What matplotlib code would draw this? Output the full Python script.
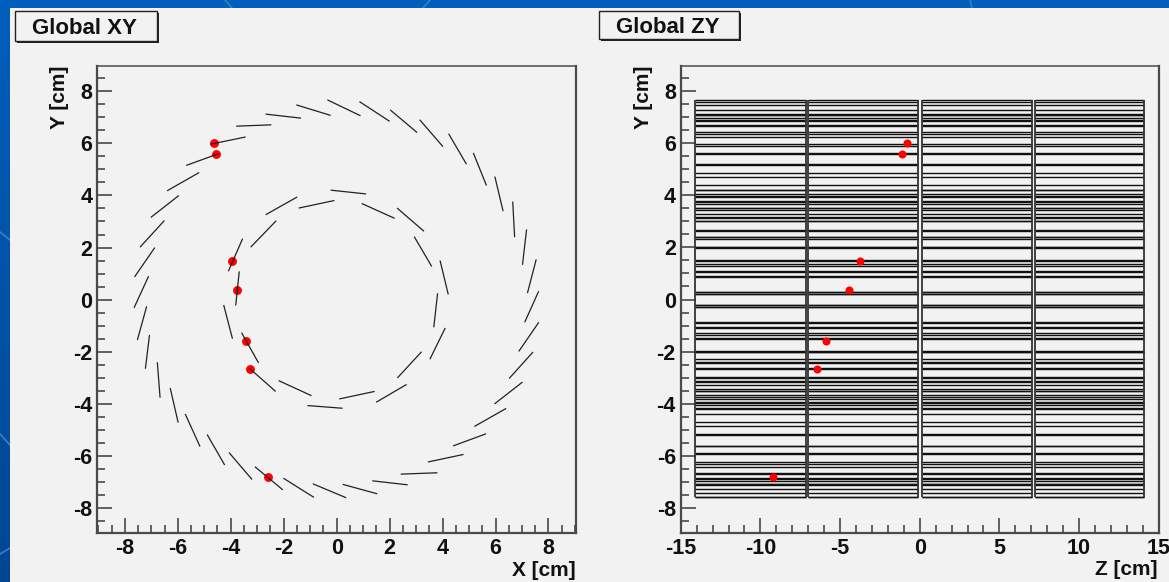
import numpy as np
import matplotlib
matplotlib.use('Agg')
import matplotlib.pyplot as plt
from matplotlib.patches import Rectangle
from matplotlib.ticker import MultipleLocator

plt.rcParams['font.family'] = ['Liberation Sans', 'DejaVu Sans']
plt.rcParams['font.weight'] = 'bold'
plt.rcParams['axes.labelweight'] = 'bold'
plt.rcParams['axes.unicode_minus'] = False

# outer ring strips, end points in cm
outer_x1 = [-4.75, -5.66, -6.38, -7.00, -7.41, -7.62, -7.64, -7.52, -7.22, -6.67, -5.99, -5.17, -4.24, -3.21,
            -2.05, -0.88, -0.88, 0.25, 1.37, 2.44, 3.47, 4.42, 5.22, 5.98, 6.53, 6.89,
            7.11, 7.21, 7.02, 6.72, 6.28, 5.65, 4.89, 4.00, 3.02, 1.98, 0.88, -1.50, -2.66, -3.77]
outer_y1 = [5.97, 5.16, 4.19, 3.17, 2.03, 0.89, -0.29, -1.53, -2.63, -3.74, -4.70, -5.62, -6.33, -6.89,
            -7.29, -7.58, -7.08, -7.10, -6.96, -6.70, -6.23, -5.61, -4.86, -3.99, -3.01, -1.97,
            -0.85, 0.27, 1.36, 2.42, 3.42, 4.40, 5.22, 5.89, 6.43, 6.86, 7.07, 7.47, 7.12, 6.66]
outer_x2 = [-3.46, -4.47, -5.21, -5.98, -6.52, -6.88, -7.11, -7.18, -7.07, -6.77, -6.28, -5.71, -4.88, -4.05,
            -3.07, -1.99, 0.34, 1.51, 2.66, 3.78, 4.77, 5.62, 6.38, 7.00, 7.40, 7.62,
            7.62, 7.53, 7.17, 6.65, 5.98, 5.17, 4.24, 3.15, 2.04, 0.88, -0.33, -0.25, -1.37, -2.49]
outer_y2 = [6.24, 5.60, 4.87, 3.98, 3.02, 1.98, 0.88, -0.28, -1.38, -2.43, -3.42, -4.41, -5.20, -5.89,
            -6.43, -6.87, -7.60, -7.45, -7.11, -6.65, -5.95, -5.16, -4.19, -3.18, -2.03, -0.89,
            0.30, 1.52, 2.67, 3.74, 4.70, 5.61, 6.35, 6.89, 7.27, 7.59, 7.66, 7.08, 6.97, 6.71]

# inner ring strips
inner_x1 = [-4.08, -3.81, -3.94, -2.96, -2.32, -0.97, -1.08, 0.12, 1.51, 2.31,
            3.53, 3.67, 4.21, 3.58, 3.28, 2.17, 1.09, -1.41, -2.66, -3.23]
inner_y1 = [1.11, -0.20, -1.48, -2.41, -3.51, -3.68, -4.07, -3.81, -3.93, -2.99,
            -2.27, -1.04, 0.22, 1.29, 2.64, 3.13, 4.06, 3.52, 3.27, 2.03]
inner_x2 = [-3.56, -3.68, -4.26, -3.58, -3.27, -2.17, 0.20, 1.41, 2.62, 3.19,
            4.09, 3.81, 3.91, 2.94, 2.30, 0.97, -0.20, -0.11, -1.51, -2.30]
inner_y2 = [2.32, 1.06, -0.23, -1.29, -2.66, -3.12, -4.17, -3.53, -3.27, -2.02,
            -1.11, 0.22, 1.48, 2.40, 3.50, 3.68, 4.20, 3.80, 3.93, 3.01]

# hits
hit_x = [-4.62, -4.57, -3.95, -3.75, -3.42, -3.28, -2.59]
hit_y = [6.01, 5.59, 1.48, 0.38, -1.59, -2.66, -6.83]
hit_z = [-0.77, -1.08, -3.74, -4.45, -5.85, -6.43, -9.19]

# z ranges of the four modules
module_z1 = [-14.08, -6.98, 0.125, 7.21]
module_z2 = [-7.15, -0.08, 7.05, 14.10]

W, H = 1169, 582
panel_color = '#f2f2f2'
axis_color = '#3a3a3a'


def px_box(x0, y0, x1, y1):
    # pixel box (y from the top) -> figure fractions
    return [x0 / W, 1 - y1 / H, (x1 - x0) / W, (y1 - y0) / H]


fig = plt.figure(figsize=(W / 100, H / 100), dpi=100)

# blue slide background
bg = fig.add_axes([0, 0, 1, 1], zorder=-5)
grad = np.linspace(0, 1, 200).reshape(-1, 1, 1)
top_c = np.array([0.0, 0.37, 0.74]).reshape(1, 1, 3)
bot_c = np.array([0.0, 0.28, 0.57]).reshape(1, 1, 3)
bg.imshow(top_c * (1 - grad) + bot_c * grad, aspect='auto', extent=[0, W, H, 0])
bg.set_xlim(0, W)
bg.set_ylim(H, 0)
bg.axis('off')
for sx, sy in [((0, 10), (232, 240)), ((0, 10), (434, 445)), ((0, 10), (554, 548)),
               ((225, 232), (0, 8)), ((423, 430), (8, 0)), ((970, 972), (0, 8))]:
    bg.plot(sx, sy, color='#3a80c4', lw=1.2)
bg.add_patch(Rectangle((10, 8), W - 10, H - 8, facecolor=panel_color, edgecolor='none', zorder=3))

# title boxes
for x0, y0, x1, y1, label in [(15, 10.5, 156.5, 40.5, 'Global XY'), (598.5, 10.5, 739, 39, 'Global ZY')]:
    bg.add_patch(Rectangle((x0 + 2, y0 + 2), x1 - x0, y1 - y0, facecolor='#222222', edgecolor='none', zorder=4))
    bg.add_patch(Rectangle((x0, y0), x1 - x0, y1 - y0, facecolor=panel_color, edgecolor='#222222', lw=1, zorder=5))
    bg.text((x0 + x1) / 2 - 1.5, (y0 + y1) / 2 + 3, label, ha='center', va='center', fontsize=16,
            color='#111111', zorder=6)


def style_axes(ax):
    ax.set_facecolor(panel_color)
    ax.set_ylim(-8.95, 8.97)
    ax.yaxis.set_major_locator(MultipleLocator(2))
    ax.yaxis.set_minor_locator(MultipleLocator(0.5))
    ax.tick_params(which='major', direction='in', length=10.5, width=1.1, color=axis_color,
                   labelsize=15.5, labelcolor='#111111', pad=4)
    ax.tick_params(which='minor', direction='in', length=5.5, width=1.1, color=axis_color)
    ax.tick_params(axis='y', which='major', pad=3.5)
    for side in ['left', 'bottom', 'right']:
        ax.spines[side].set_linewidth(1.6)
        ax.spines[side].set_color('#4a4a4a')
    ax.spines['top'].set_linewidth(1.1)
    ax.spines['top'].set_color('#4a4a4a')
    ax.set_ylabel('Y [cm]', fontsize=15, loc='top', color='#111111')
    ax.yaxis.set_label_coords(-0.058, 1.0)


# XY view
ax1 = fig.add_axes(px_box(97, 66, 576.3, 532.7))
ax1.set_xlim(-9.05, 9.05)
ax1.xaxis.set_major_locator(MultipleLocator(2))
ax1.xaxis.set_minor_locator(MultipleLocator(0.5))
style_axes(ax1)
ax1.set_xlabel('X [cm]', fontsize=15, loc='right', color='#111111')
ax1.xaxis.set_label_coords(0.998, -0.06)
ax1.plot(hit_x, hit_y, 'o', color='#ff0000', ms=6.4, mec='none', zorder=2)
for i in range(len(outer_x1)):
    ax1.plot([outer_x1[i], outer_x2[i]], [outer_y1[i], outer_y2[i]], color='#222222', lw=0.9, zorder=3)
for i in range(len(inner_x1)):
    ax1.plot([inner_x1[i], inner_x2[i]], [inner_y1[i], inner_y2[i]], color='#222222', lw=0.9, zorder=3)

# ZY view
ax2 = fig.add_axes(px_box(680.7, 66, 1158.7, 532.5))
ax2.set_xlim(-15, 15)
ax2.xaxis.set_major_locator(MultipleLocator(5))
ax2.xaxis.set_minor_locator(MultipleLocator(1))
style_axes(ax2)
ax2.set_xlabel('Z [cm]', fontsize=15, loc='right', color='#111111')
ax2.xaxis.set_label_coords(0.998, -0.06)
strip_y = outer_y1 + outer_y2 + inner_y1 + inner_y2
for i in range(len(module_z1)):
    ax2.hlines(strip_y, module_z1[i], module_z2[i], color='#111111', lw=1.0, zorder=2)
    ax2.vlines([module_z1[i], module_z2[i]], min(strip_y), max(strip_y), color='#333333', lw=1.3, zorder=2)
ax2.plot(hit_z, hit_y, 'o', color='#ff0000', ms=5.8, mec='none', zorder=3)

fig.savefig('out.png', dpi=100)
